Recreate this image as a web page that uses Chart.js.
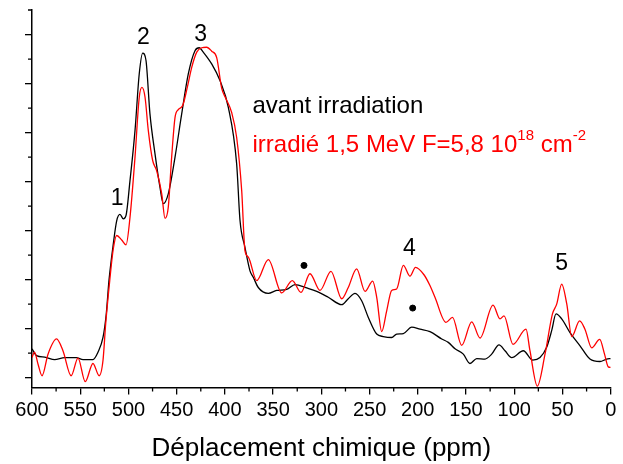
<!DOCTYPE html>
<html>
<head>
<meta charset="utf-8">
<script src="https://cdn.jsdelivr.net/npm/chart.js@4.4.1/dist/chart.umd.min.js"></script>
<style>
  html, body { margin: 0; padding: 0; background: #fff; }
</style>
</head>
<body>
<canvas id="rmn" width="623" height="464"></canvas>
<script>
// spectre avant irradiation (noir)
const ppmAvant = [600, 595.3, 586.8, 576.5, 566.1, 554.1, 547.1, 536.8, 531.6, 526.4, 523.0, 520.2, 515.7, 512.2, 508.8, 505.3, 502.5, 498.4, 493.2, 488.8, 485.2, 481.8, 477.7, 472.5, 467.3, 463.9, 458.7, 451.7, 444.8, 437.9, 431.0, 426.5, 422.4, 413.7, 405.1, 396.5, 387.8, 384.3, 379.2, 374.0, 370.6, 365.4, 355.0, 346.3, 335.9, 327.3, 315.2, 304.8, 292.8, 278.9, 272.1, 265.1, 258.2, 251.3, 242.6, 235.8, 227.1, 221.9, 215.0, 206.3, 197.7, 187.4, 175.2, 168.4, 161.4, 152.8, 145.9, 138.9, 130.3, 123.4, 115.8, 109.6, 102.6, 90.6, 80.9, 73.3, 66.4, 61.2, 56.7, 50.8, 42.2, 31.8, 21.5, 11.1, 4.2, 0]
const intAvant = [0.59, 0.45, 0.42, 0.37, 0.41, 0.41, 0.37, 0.37, 0.52, 0.82, 1.30, 1.98, 2.73, 3.20, 3.33, 3.24, 3.31, 4.02, 5.04, 6.20, 6.62, 6.47, 5.38, 4.57, 3.88, 3.55, 3.75, 4.50, 5.38, 6.20, 6.67, 6.73, 6.64, 6.40, 6.06, 5.52, 4.36, 3.20, 2.66, 2.18, 2.05, 1.84, 1.72, 1.78, 1.80, 1.90, 1.83, 1.76, 1.64, 1.49, 1.61, 1.72, 1.57, 1.23, 0.89, 0.84, 0.82, 0.89, 0.90, 1.03, 0.99, 0.94, 0.79, 0.72, 0.59, 0.48, 0.29, 0.39, 0.38, 0.48, 0.67, 0.55, 0.41, 0.55, 0.36, 0.41, 0.62, 0.96, 1.30, 1.20, 0.92, 0.65, 0.38, 0.33, 0.38, 0.39]

// spectre irradié 1,5 MeV (rouge)
const ppmIrr = [600, 597.4, 593.8, 589.6, 583.4, 574.6, 567.9, 559.4, 552.3, 544.8, 536.8, 530.3, 526.4, 523.6, 519.4, 515.7, 512.2, 507.0, 502.5, 498.4, 493.2, 488.8, 486.0, 482.8, 479.4, 474.9, 470.7, 465.5, 462.1, 458.7, 455.2, 451.7, 448.3, 443.8, 439.0, 434.4, 429.2, 424.1, 418.9, 413.7, 408.5, 403.3, 398.9, 393.0, 387.8, 382.6, 379.2, 375.7, 367.0, 355.0, 341.1, 330.1, 321.1, 311.8, 301.4, 290.0, 278.9, 272.1, 263.4, 254.7, 246.8, 242.6, 237.4, 232.2, 227.1, 221.9, 215.0, 208.1, 202.4, 193.6, 187.4, 182.2, 170.8, 164.0, 154.5, 144.1, 135.5, 122.0, 114.8, 110.6, 101.3, 87.8, 83.7, 76.1, 68.1, 60.4, 56.0, 50.8, 45.6, 40.4, 32.2, 26.7, 19.7, 11.4, 6.4, 2.5, 0]
const intIrr = [0.41, 0.52, 0.28, 0.04, 0.48, 0.79, 0.55, 0.04, 0.40, -0.08, 0.29, 0.04, 0.35, 1.10, 1.98, 2.63, 2.90, 2.81, 2.71, 3.27, 4.50, 5.72, 5.92, 5.72, 5.04, 4.43, 4.22, 3.75, 3.25, 3.48, 4.50, 5.31, 5.47, 5.55, 5.92, 6.33, 6.64, 6.73, 6.74, 6.66, 6.53, 5.90, 5.69, 5.41, 4.90, 3.82, 2.59, 2.46, 1.98, 2.41, 1.73, 1.98, 1.74, 2.12, 1.78, 2.17, 1.61, 1.84, 2.22, 1.76, 1.97, 1.64, 0.94, 1.37, 1.78, 1.81, 2.29, 2.07, 2.25, 2.10, 1.88, 1.64, 1.13, 1.23, 0.66, 1.14, 0.81, 1.48, 1.20, 1.26, 0.68, 0.99, 0.55, -0.17, 0.48, 1.30, 1.50, 1.91, 1.51, 0.84, 1.16, 0.99, 0.61, 0.78, 0.48, 0.22, 0.21]

// points noirs
const pointsPpm = [318, 205.3]
const pointsInt = [2.29, 1.42]

// numéros des pics
const pics = ['1', '2', '3', '4', '5']
const picsPpm = [511.6, 484.6, 425.1, 208.8, 50.8]
const picsInt = [3.65, 6.94, 7.0, 2.63, 2.32]

// graduations
const xTicks = [600, 550, 500, 450, 400, 350, 300, 250, 200, 150, 100, 50, 0]
const xMinor = [575, 525, 475, 425, 375, 325, 275, 225, 175, 125, 75, 25]
const yTicks = [0, 1, 2, 3, 4, 5, 6, 7]
const yMinor = [0.5, 1.5, 2.5, 3.5, 4.5, 5.5, 6.5, 7.5]

const FONT = '"Liberation Sans", Arial, sans-serif'

const toXY = (xs, ys) => xs.map((x, i) => ({ x: x, y: ys[i] }))

// petites graduations, numéros et légende écrite dans le graphe
const habillage = {
  id: 'habillage',
  afterDraw(chart) {
    const { ctx, chartArea } = chart
    const x = chart.scales.x
    const y = chart.scales.y
    ctx.save()
    ctx.strokeStyle = '#000'
    ctx.lineWidth = 1.3
    ctx.beginPath()
    xMinor.forEach(v => {
      const px = x.getPixelForValue(v)
      ctx.moveTo(px, chartArea.bottom)
      ctx.lineTo(px, chartArea.bottom + 4)
    })
    yMinor.forEach(v => {
      const py = y.getPixelForValue(v)
      ctx.moveTo(chartArea.left - 4, py)
      ctx.lineTo(chartArea.left, py)
    })
    ctx.stroke()

    ctx.fillStyle = '#000'
    ctx.font = '23px ' + FONT
    ctx.textAlign = 'center'
    ctx.textBaseline = 'middle'
    pics.forEach((t, i) => {
      ctx.fillText(t, x.getPixelForValue(picsPpm[i]), y.getPixelForValue(picsInt[i]))
    })

    ctx.textAlign = 'left'
    ctx.textBaseline = 'alphabetic'
    ctx.font = '24px ' + FONT
    const lx = x.getPixelForValue(371.4)
    ctx.fillText('avant irradiation', lx, y.getPixelForValue(5.39))

    ctx.fillStyle = '#ff0000'
    let cx = lx
    const by = y.getPixelForValue(4.60)
    const morceaux = [['irradié 1,5 MeV F=5,8 10', false], ['18', true], [' cm', false], ['-2', true]]
    morceaux.forEach(([txt, sup]) => {
      ctx.font = (sup ? '15px ' : '24px ') + FONT
      ctx.fillText(txt, cx, sup ? by - 12 : by)
      cx += ctx.measureText(txt).width
    })
    ctx.restore()
  }
}

const ctx = document.getElementById('rmn')

const myChart = new Chart(ctx, {
  type: 'line',
  data: {
    datasets: [{
      label: 'irradié',
      data: toXY(ppmIrr, intIrr),
      borderColor: '#ff0000',
      borderWidth: 1.3,
      pointRadius: 0,
      cubicInterpolationMode: 'monotone',
      order: 1
    }, {
      label: 'avant irradiation',
      data: toXY(ppmAvant, intAvant),
      borderColor: '#000000',
      borderWidth: 1.3,
      pointRadius: 0,
      cubicInterpolationMode: 'monotone',
      order: 2
    }, {
      label: 'points',
      data: toXY(pointsPpm, pointsInt),
      showLine: false,
      pointRadius: 3,
      pointBackgroundColor: '#000',
      pointBorderColor: '#000',
      order: 0
    }]
  },
  options: {
    responsive: false,
    animation: false,
    layout: { padding: { top: 10, right: 12.3, left: 0, bottom: 0 } },
    plugins: {
      legend: { display: false },
      tooltip: { enabled: false }
    },
    scales: {
      x: {
        type: 'linear',
        reverse: true,
        min: 0,
        max: 600,
        afterBuildTicks: s => { s.ticks = xTicks.map(v => ({ value: v })) },
        afterFit: s => { s.height = 76.5 },
        grid: { drawOnChartArea: false, drawTicks: true, tickLength: 7, color: '#000', lineWidth: 1.3 },
        border: { color: '#000', width: 1.5 },
        ticks: { color: '#000', font: { size: 20, family: FONT }, padding: 4, maxRotation: 0, autoSkip: false },
        title: {
          display: true,
          text: 'Déplacement chimique (ppm)',
          color: '#000',
          font: { size: 26, family: FONT },
          padding: { top: 0, bottom: 0 }
        }
      },
      y: {
        type: 'linear',
        min: -0.2,
        max: 7.5,
        afterBuildTicks: s => { s.ticks = yTicks.map(v => ({ value: v })) },
        afterFit: s => { s.width = 32 },
        grid: { drawOnChartArea: false, drawTicks: true, tickLength: 7, color: '#000', lineWidth: 1.3 },
        border: { color: '#000', width: 1.5 },
        ticks: { display: false }
      }
    }
  },
  plugins: [habillage]
})
</script>
</body>
</html>
